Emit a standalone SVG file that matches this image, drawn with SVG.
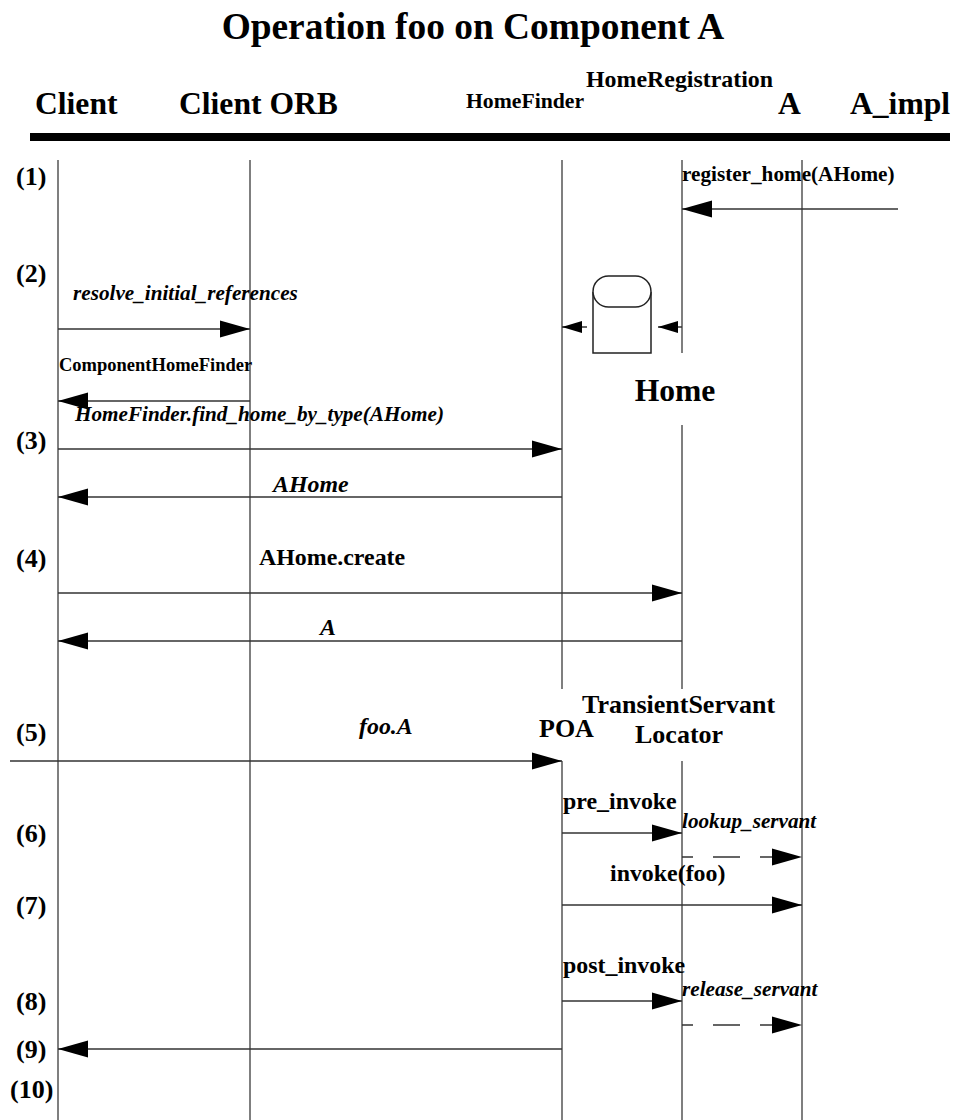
<svg xmlns="http://www.w3.org/2000/svg" width="962" height="1120" viewBox="0 0 962 1120">
<style>
text{font-family:"Liberation Serif","Times New Roman",serif;font-weight:bold;fill:#000}
.i{font-style:italic}
.s21{font-size:21.2px}.s24{font-size:23.9px}.s26{font-size:26px}.s32{font-size:31.6px}.s37{font-size:37.4px}
.life{stroke:#555;stroke-width:1.5;fill:none}
.msg{stroke:#333;stroke-width:1.5;fill:none}
.dash{stroke-dasharray:27 20}
</style>
<defs>
<marker id="a" markerUnits="userSpaceOnUse" markerWidth="32" markerHeight="18" refX="31" refY="9" orient="auto"><path d="M1 .5L31 9L1 17.5Z" fill="#000"/></marker>
<marker id="b" markerUnits="userSpaceOnUse" markerWidth="22" markerHeight="14" refX="21" refY="7" orient="auto"><path d="M1 1L21 7L1 13Z" fill="#000"/></marker>
</defs>
<rect width="962" height="1120" fill="#fff"/>
<text x="473" y="39" text-anchor="middle" class="s37">Operation foo on Component A</text>
<g id="header">
<text x="35" y="114" class="s32">Client</text>
<text x="179" y="114" class="s32">Client ORB</text>
<text x="466" y="108" style="font-size:21.7px">HomeFinder</text>
<text x="586" y="87" class="s24">HomeRegistration</text>
<text x="778" y="114" class="s32">A</text>
<text x="850" y="114" class="s32">A_impl</text>
<rect x="30" y="133" width="920" height="8" fill="#000"/>
</g>
<g id="lifelines">
<path class="life" d="M58 160V1120M250 160V1120M562 160V689M562 761V1120M682 160V353M682 425V689M682 761V1120M802 160V1120"/>
</g>
<g id="steps">
<text x="16" y="185" class="s26">(1)</text>
<text x="16" y="282" class="s26">(2)</text>
<text x="16" y="449" class="s26">(3)</text>
<text x="16" y="567" class="s26">(4)</text>
<text x="16" y="741" class="s26">(5)</text>
<text x="16" y="842" class="s26">(6)</text>
<text x="16" y="914" class="s26">(7)</text>
<text x="16" y="1010" class="s26">(8)</text>
<text x="16" y="1058" class="s26">(9)</text>
<text x="10" y="1098" class="s26">(10)</text>
</g>
<g id="home-store">
<path d="M593 292V353H651V292" fill="#fff" stroke="#222" stroke-width="1.5"/>
<rect x="593" y="276" width="58" height="31" rx="15.5" fill="#fff" stroke="#222" stroke-width="1.5"/>
<text x="675" y="401" text-anchor="middle" class="s32">Home</text>
</g>
<g id="connectors">
<path class="msg" d="M898 209H682" marker-end="url(#a)"/>
<path class="msg" d="M587 327H562" marker-end="url(#b)"/>
<path class="msg" d="M682 327H658" marker-end="url(#b)"/>
<path class="msg" d="M58 329H250" marker-end="url(#a)"/>
<path class="msg" d="M250 401H58" marker-end="url(#a)"/>
<path class="msg" d="M58 449H562" marker-end="url(#a)"/>
<path class="msg" d="M562 497H58" marker-end="url(#a)"/>
<path class="msg" d="M58 593H682" marker-end="url(#a)"/>
<path class="msg" d="M682 641H58" marker-end="url(#a)"/>
<path class="msg" d="M10 761H562" marker-end="url(#a)"/>
<path class="msg" d="M562 833H682" marker-end="url(#a)"/>
<path class="msg dash" d="M682 857H802" stroke-dashoffset="16" marker-end="url(#a)"/>
<path class="msg" d="M562 905H802" marker-end="url(#a)"/>
<path class="msg" d="M562 1001H682" marker-end="url(#a)"/>
<path class="msg dash" d="M682 1025H802" stroke-dashoffset="16" marker-end="url(#a)"/>
<path class="msg" d="M562 1049H58" marker-end="url(#a)"/>
</g>
<g id="labels">
<text x="682" y="181" class="s21">register_home(AHome)</text>
<text x="73" y="300" class="s21 i">resolve_initial_references</text>
<text x="59" y="371" style="font-size:18.5px">ComponentHomeFinder</text>
<text x="75" y="421" class="s21 i">HomeFinder.find_home_by_type(AHome)</text>
<text x="273" y="492" class="s24 i">AHome</text>
<text x="259" y="565" class="s24">AHome.create</text>
<text x="320" y="635" class="s24 i">A</text>
<text x="359" y="734" class="s24 i">foo.A</text>
<text x="539" y="737" class="s26">POA</text>
<text x="582" y="713" class="s26">TransientServant</text>
<text x="635" y="743" class="s26">Locator</text>
<text x="563" y="809" class="s24">pre_invoke</text>
<text x="682" y="828" class="s21 i">lookup_servant</text>
<text x="610" y="881" class="s24">invoke(foo)</text>
<text x="563" y="973" class="s24">post_invoke</text>
<text x="682" y="996" class="s21 i">release_servant</text>
</g>
</svg>
